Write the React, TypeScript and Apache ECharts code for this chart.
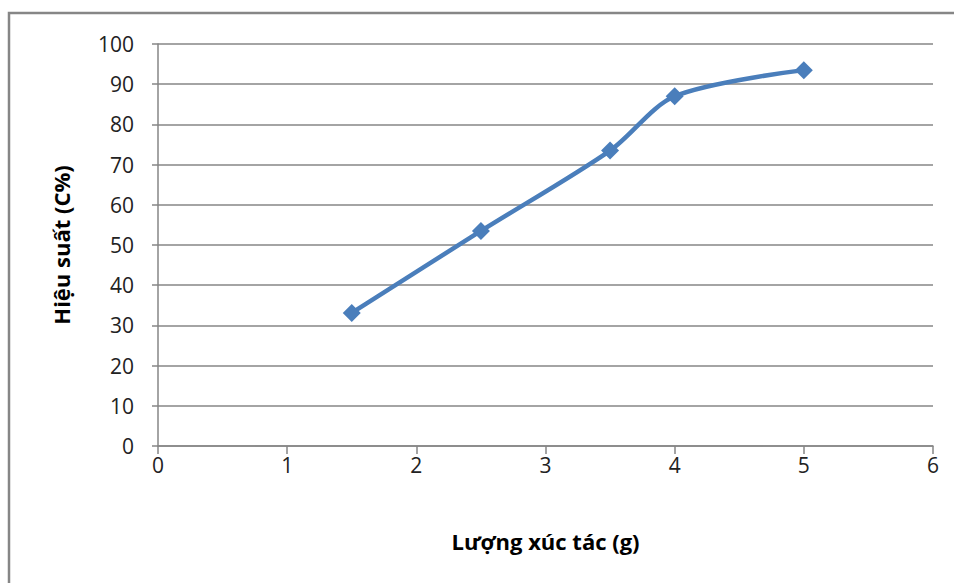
import React, { useEffect, useRef } from "react";
import * as echarts from "echarts";

const xValues = [1.5, 2.5, 3.5, 4, 5];
const yValues = [33.1, 53.5, 73.5, 87, 93.5];
const xTitle = "Lượng xúc tác (g)";
const yTitle = "Hiệu suất (C%)";

export default function App() {
  const ref = useRef<HTMLDivElement>(null);
  useEffect(() => {
    const chart = echarts.init(ref.current!, null, { renderer: "svg" });
    const axisColor = "#868686";
    const font = "'Open Sans', 'Liberation Sans', sans-serif";
    chart.setOption({
      animation: false,
      backgroundColor: "#ffffff",
      grid: { left: 158, right: 21, top: 44, bottom: 137, containLabel: false },
      xAxis: {
        type: "value",
        min: 0,
        max: 6,
        interval: 1,
        name: xTitle,
        nameLocation: "middle",
        nameGap: 84,
        nameTextStyle: { fontFamily: font, fontSize: 22, fontWeight: "bold", color: "#000" },
        axisLine: { show: true, lineStyle: { color: axisColor, width: 1.5 } },
        axisTick: { show: true, length: 8, inside: false, lineStyle: { color: axisColor, width: 1.5 } },
        axisLabel: { fontFamily: font, fontSize: 21, color: "#222", margin: 8 },
        splitLine: { show: false },
      },
      yAxis: {
        type: "value",
        min: 0,
        max: 100,
        interval: 10,
        name: yTitle,
        nameLocation: "middle",
        nameGap: 86,
        nameRotate: 90,
        nameTextStyle: { fontFamily: font, fontSize: 22, fontWeight: "bold", color: "#000" },
        axisLine: { show: true, lineStyle: { color: axisColor, width: 1.5 } },
        axisTick: { show: true, length: 6, inside: false, lineStyle: { color: axisColor, width: 1.5 } },
        axisLabel: { fontFamily: font, fontSize: 21, color: "#222", margin: 24 },
        splitLine: { show: true, lineStyle: { color: axisColor, width: 1.5 } },
      },
      series: [
        {
          type: "line",
          data: xValues.map((x, i) => [x, yValues[i]]),
          smooth: 0.3,
          symbol: "diamond",
          symbolSize: 18,
          lineStyle: { color: "#4a7ebb", width: 4.5 },
          itemStyle: { color: "#4a7ebb" },
        },
      ],
      graphic: [
        {
          type: "rect",
          shape: { x: 9, y: 13, width: 1200, height: 1200 },
          style: { fill: "none", stroke: axisColor, lineWidth: 2.5 },
          silent: true,
        },
      ],
    });
    return () => chart.dispose();
  }, []);
  return (
    <div
      ref={ref}
      style={{ position: "absolute", left: 0, top: 0, width: 954, height: 583 }}
    />
  );
}
